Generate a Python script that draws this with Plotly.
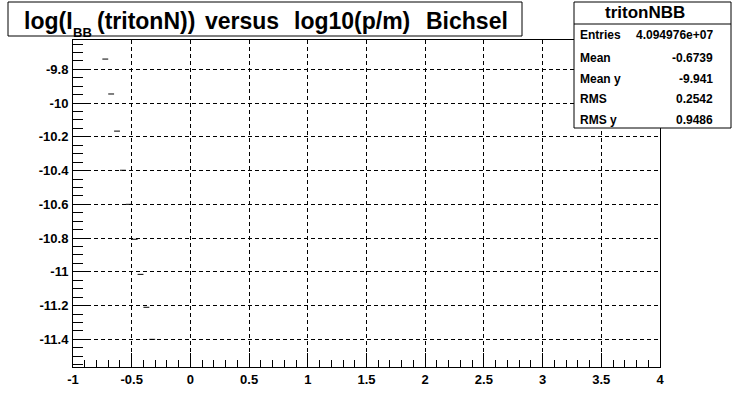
import plotly.graph_objects as go

# ---- data ----
bin_left = [-0.75, -0.70, -0.65, -0.60, -0.55, -0.50, -0.45, -0.40, -0.35]
bin_width = 0.05
bin_value = [-9.739, -9.946, -10.166, -10.398, -10.600, -10.807, -11.015, -11.210, -11.400]

x_tick_vals = [-1, -0.5, 0, 0.5, 1, 1.5, 2, 2.5, 3, 3.5, 4]
x_tick_text = ["-1", "-0.5", "0", "0.5", "1", "1.5", "2", "2.5", "3", "3.5", "4"]
y_tick_vals = [-9.8, -10.0, -10.2, -10.4, -10.6, -10.8, -11.0, -11.2, -11.4]
y_tick_text = ["-9.8", "-10", "-10.2", "-10.4", "-10.6", "-10.8", "-11", "-11.2", "-11.4"]

stats_labels = ["Entries", "Mean", "Mean y", "RMS", "RMS y"]
stats_values = ["4.094976e+07", "-0.6739", "-9.941", "0.2542", "0.9486"]
stats_title = "tritonNBB"
title_words = ["log(I", "BB", "(tritonN))", "versus", "log10(p/m)", "Bichsel"]

x_range = [-1, 4]
y_range = [-11.564, -9.626]

# ---- geometry (pixels) ----
W, H = 735, 408
L, R, T, B = 73, 660, 40, 367


def px(x):
    return (x - L) / (R - L)


def py(y):
    return (B - y) / (B - T)


xs, ys = [], []
for xl, v in zip(bin_left, bin_value):
    xs += [xl, xl + bin_width, None]
    ys += [v, v, None]

fig = go.Figure()
fig.add_trace(go.Scatter(x=xs, y=ys, mode="lines",
                         line=dict(color="black", width=1),
                         hoverinfo="skip", showlegend=False))

font = "Liberation Sans, Arial, Helvetica, sans-serif"
axis_common = dict(
    showline=True, linecolor="black", linewidth=1, mirror=True,
    showgrid=True, gridcolor="black", gridwidth=1, griddash="4px,3px",
    zeroline=False, ticks="inside", tickcolor="black", tickwidth=1,
    automargin=False, tickmode="array",
    tickfont=dict(family=font, size=13, color="black", weight="bold"),
)

fig.update_layout(
    width=W, height=H,
    margin=dict(l=L, r=W - R, t=T, b=H - B, pad=0, autoexpand=False),
    paper_bgcolor="white", plot_bgcolor="white",
    showlegend=False,
    xaxis=dict(range=x_range, tickvals=x_tick_vals, ticktext=x_tick_text, ticklen=14,
               minor=dict(dtick=0.1, tick0=0, ticklen=7, ticks="inside",
                          tickcolor="black", showgrid=False),
               ticklabelstandoff=0, **axis_common),
    yaxis=dict(range=y_range, tickvals=y_tick_vals, ticktext=y_tick_text, ticklen=18,
               minor=dict(dtick=0.05, tick0=0, ticklen=10, ticks="inside",
                          tickcolor="black", showgrid=False),
               ticklabelstandoff=1, **axis_common),
)

shapes = []
annotations = []

# title box
shapes.append(dict(type="rect", xref="paper", yref="paper",
                   x0=px(8), x1=px(522), y0=py(36), y1=py(2),
                   line=dict(color="black", width=1), fillcolor="white"))
tfont = dict(family=font, size=23, color="black", weight="bold")
word_x = [22, 71, 95, 203, 292, 424]
for wtxt, wx in zip(title_words, word_x):
    if wtxt == "BB":
        annotations.append(dict(xref="paper", yref="paper", x=px(wx), y=py(32.5),
                                text=wtxt, showarrow=False,
                                xanchor="left", yanchor="middle",
                                font=dict(family=font, size=13, color="black", weight="bold")))
    else:
        annotations.append(dict(xref="paper", yref="paper", x=px(wx), y=py(20.5),
                                text=wtxt, showarrow=False,
                                xanchor="left", yanchor="middle", font=tfont))

# stats box
shapes.append(dict(type="rect", xref="paper", yref="paper",
                   x0=px(574), x1=px(731), y0=py(128), y1=py(2),
                   line=dict(color="black", width=1), fillcolor="white"))
shapes.append(dict(type="line", xref="paper", yref="paper",
                   x0=px(574), x1=px(731), y0=py(24), y1=py(24),
                   line=dict(color="black", width=1)))
annotations.append(dict(xref="paper", yref="paper", x=px(645), y=py(12.5),
                        text=stats_title, showarrow=False,
                        xanchor="center", yanchor="middle",
                        font=dict(family=font, size=17, color="black", weight="bold")))
row_y = [35, 58, 79, 99, 120]
for lab, val, ry in zip(stats_labels, stats_values, row_y):
    annotations.append(dict(xref="paper", yref="paper", x=px(578), y=py(ry),
                            text=lab, showarrow=False, xanchor="left", yanchor="middle",
                            font=dict(family=font, size=12, color="black", weight="bold")))
    annotations.append(dict(xref="paper", yref="paper", x=px(715), y=py(ry),
                            text=val, showarrow=False, xanchor="right", yanchor="middle",
                            font=dict(family=font, size=12, color="black", weight="bold")))

fig.update_layout(shapes=shapes, annotations=annotations)
fig.write_html("out.html", config={"displayModeBar": False},
               post_script="document.body.style.margin='0px';")
